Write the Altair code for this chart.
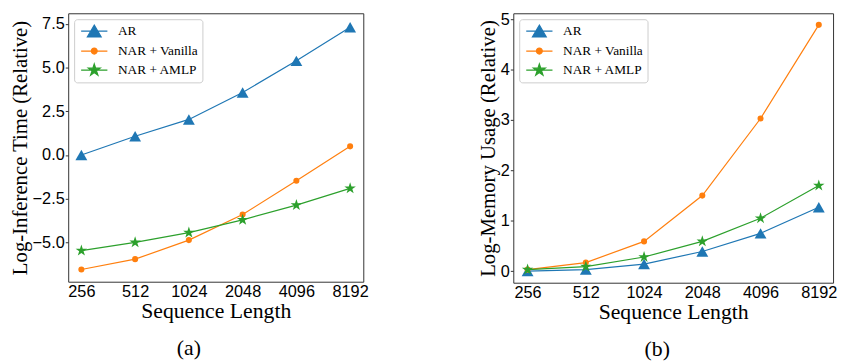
import altair as alt
import pandas as pd

seq_lengths = ["256", "512", "1024", "2048", "4096", "8192"]
series_names = ["AR", "NAR + Vanilla", "NAR + AMLP"]
colors = ["#1f77b4", "#ff7f0e", "#2ca02c"]

time_ar = [0.0, 1.07, 2.03, 3.57, 5.38, 7.30]
time_vanilla = [-6.55, -5.96, -4.87, -3.41, -1.48, 0.49]
time_amlp = [-5.47, -5.00, -4.44, -3.71, -2.87, -1.91]

mem_ar = [0.0, 0.03, 0.14, 0.39, 0.75, 1.27]
mem_vanilla = [0.03, 0.17, 0.59, 1.50, 3.03, 4.89]
mem_amlp = [0.03, 0.09, 0.28, 0.59, 1.05, 1.70]

time_ticks = [-5.0, -2.5, 0.0, 2.5, 5.0, 7.5]
mem_ticks = [0, 1, 2, 3, 4, 5]

STAR = ("M0,-1 L0.225,-0.309 L0.951,-0.309 L0.363,0.118 L0.588,0.809 L0,0.382 "
        "L-0.588,0.809 L-0.363,0.118 L-0.951,-0.309 L-0.225,-0.309 Z")
TRI = "M0,-0.88 L1,0.88 L-1,0.88 Z"


def scaled(path, k):
    out = []
    for tok in path.split(" "):
        if "," in tok:
            c = tok[0] if tok[0].isalpha() else ""
            body = tok[1:] if c else tok
            a, b = body.split(",")
            out.append(f"{c}{float(a)*k:.3f},{float(b)*k:.3f}")
        else:
            out.append(tok)
    return " ".join(out)


LINE = "M-1.9,0 L1.9,0 "
legend_paths = [
    LINE + "M0,-0.85 L1,0.85 L-1,0.85 Z",
    LINE + "M-0.43,0 A0.43,0.43 0 1,0 0.43,0 A0.43,0.43 0 1,0 -0.43,0 Z",
    LINE + scaled(STAR, 0.9),
]

marker_shapes = [TRI, "circle", STAR]
marker_sizes = [144, 38, 150]


def panel(series_values, ytitle, ydomain, yticks, yfmt, width, height, caption):
    rows = []
    for name, vals in zip(series_names, series_values):
        for s, v in zip(seq_lengths, vals):
            rows.append({"seq": s, "series": name, "value": v})
    df = pd.DataFrame(rows)
    base = alt.Chart(df)
    x = alt.X("seq:O", sort=seq_lengths,
              scale=alt.Scale(type="point", padding=0.245),
              axis=alt.Axis(title="Sequence Length", labelAngle=0, ticks=False,
                            labelPadding=2, titlePadding=1, titleFontSize=22))
    y = alt.Y("value:Q",
              scale=alt.Scale(domain=ydomain, nice=False, zero=False),
              axis=alt.Axis(title=ytitle, values=yticks, format=yfmt,
                            tickSize=3, labelPadding=1, titlePadding=2,
                            titleFontSize=21))
    layers = []
    for i, name in enumerate(series_names):
        sub = base.transform_filter(alt.datum.series == name)
        layers.append(sub.mark_line(color=colors[i], strokeWidth=1.2).encode(x=x, y=y))
        layers.append(sub.mark_point(shape=marker_shapes[i], size=marker_sizes[i],
                                     filled=True, color=colors[i], opacity=1,
                                     strokeWidth=0).encode(x=x, y=y))
    leg = base.transform_filter("datum.value > 1e9").mark_point(
        filled=True, opacity=1).encode(
        shape=alt.Shape("series:N", scale=alt.Scale(domain=series_names, range=legend_paths),
                        legend=alt.Legend(title=None)),
        fill=alt.Fill("series:N", scale=alt.Scale(domain=series_names, range=colors),
                      legend=alt.Legend(title=None)),
        stroke=alt.Stroke("series:N", scale=alt.Scale(domain=series_names, range=colors),
                          legend=alt.Legend(title=None)),
    )
    layers.append(leg)
    return alt.layer(*layers).properties(
        width=width, height=height,
        title=alt.TitleParams(caption, orient="bottom", frame="bounds", anchor="middle",
                              font="Liberation Serif", fontSize=22, fontWeight="normal",
                              color="black", offset=17),
    )


pa = panel([time_ar, time_vanilla, time_amlp], "Log-Inference Time (Relative)",
           [-7.25, 8.1], time_ticks, ".1f", 299, 272, "(a)")
pb = panel([mem_ar, mem_vanilla, mem_amlp], "Log-Memory Usage (Relative)",
           [-0.23, 5.12], mem_ticks, "d", 324, 273, "(b)")

chart = alt.hconcat(pa, pb, spacing=109).resolve_scale(
    shape="independent", fill="independent", stroke="independent"
).resolve_legend(
    shape="independent", fill="independent", stroke="independent"
).properties(
    padding={"left": 0, "top": 0, "right": 0, "bottom": 0}
).configure_view(
    stroke="#333333", strokeWidth=1
).configure_axis(
    domain=False, grid=False,
    labelFont="Liberation Sans", labelFontSize=16.5, labelColor="black",
    titleFont="Liberation Serif", titleFontWeight="normal", titleColor="black",
    tickColor="#333333", tickWidth=1,
).configure_legend(
    orient="top-left", offset=6,
    labelFont="Liberation Serif", labelFontSize=13.5, labelColor="black",
    symbolSize=196, symbolStrokeWidth=1.2, symbolOffset=8.4, labelOffset=16,
    padding=4, rowPadding=3.3, strokeColor="#cccccc", cornerRadius=3,
    fillColor="white", symbolOpacity=1,
)

chart.save("out.html", embed_options={"renderer": "svg", "actions": False})
